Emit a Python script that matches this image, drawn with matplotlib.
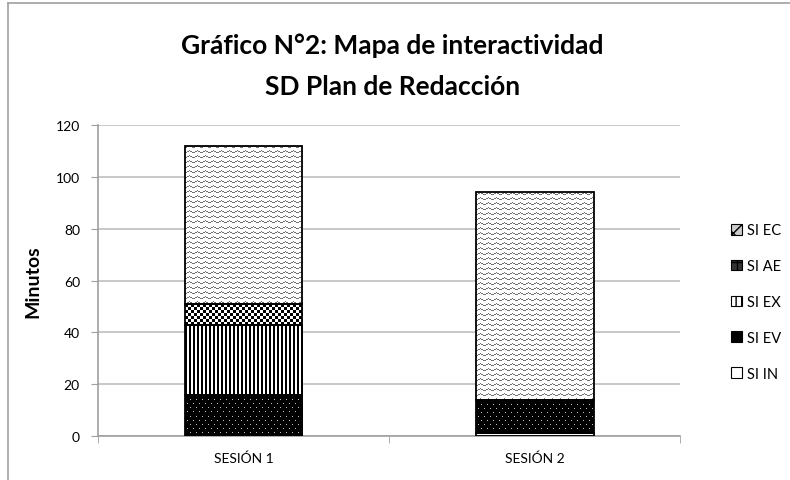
import matplotlib
matplotlib.use("Agg")
import matplotlib.pyplot as plt
import matplotlib.patches as mpatches
import numpy as np

# data (minutes)
sessions = ["SESIÓN 1", "SESIÓN 2"]
series_names = ["SI IN", "SI EV", "SI EX", "SI AE", "SI EC"]
si_in = [0, 1]
si_ev = [16, 13]
si_ex = [27, 0]
si_ae = [8, 0]
si_ec = [61, 80]
series_values = [si_in, si_ev, si_ex, si_ae, si_ec]
patterns = ["blank", "dots", "vstripes", "checker", "zigzag"]


def texture(kind, h, w):
    # pixel textures that mimic the Excel pattern fills
    yy, xx = np.mgrid[0:h, 0:w]
    img = np.ones((h, w, 3))
    if kind == "dots":
        img[:] = 0.0
        row = yy % 4 == 1
        col = (xx + 3 * ((yy // 4) % 2)) % 6 == 2
        img[row & col] = 0.75
    elif kind == "vstripes":
        img[(xx % 4) < 2] = 0.0
    elif kind == "checker":
        img[((xx // 3) + (yy // 3)) % 2 == 0] = 0.0
    elif kind == "zigzag":
        tri = np.abs((xx % 8) - 4) / 2.0
        on = np.abs(((yy - tri) % 5)) < 1.0
        img[on] = 0.45
    return img


plt.rcParams["font.family"] = ["Lato", "DejaVu Sans"]
plt.rcParams["hatch.linewidth"] = 1.0

fig = plt.figure(figsize=(7.9, 4.81), dpi=100)
ax = fig.add_axes([0.124, 0.0915, 0.737, 0.6465])
ax.set_xlim(-0.5, 1.5)
ax.set_ylim(0, 120)

x = np.arange(len(sessions))
width = 0.405
bottom = np.zeros(len(sessions))
for vals, kind in zip(series_values, patterns):
    vals = np.array(vals, dtype=float)
    ax.bar(x, vals, width, bottom=bottom, fill=False,
           edgecolor="black", linewidth=1.3, zorder=3)
    for xi, b, v in zip(x, bottom, vals):
        if v <= 0:
            continue
        x0, x1 = xi - width / 2, xi + width / 2
        p0 = ax.transData.transform((x0, b))
        p1 = ax.transData.transform((x1, b + v))
        w_px = max(int(round(abs(p1[0] - p0[0]))), 1)
        h_px = max(int(round(abs(p1[1] - p0[1]))), 1)
        ax.imshow(texture(kind, h_px, w_px), extent=(x0, x1, b, b + v),
                  aspect="auto", interpolation="nearest", zorder=2)
    bottom += vals

ax.set_xlim(-0.5, 1.5)
ax.set_ylim(0, 120)
ax.set_yticks(range(0, 121, 20))
ax.set_xticks(x)
ax.set_xticklabels(sessions, fontsize=10)
ax.set_xticks([-0.5, 0.5, 1.5], minor=True)
ax.tick_params(axis="x", which="major", length=0, pad=11)
ax.tick_params(axis="x", which="minor", length=5, color="#a0a0a0")
ax.tick_params(axis="y", labelsize=10, length=5, color="#a0a0a0", pad=8)
ax.yaxis.grid(True, color="#bfbfbf", linewidth=1.2, zorder=0)
ax.set_axisbelow(True)
for side in ["top", "right"]:
    ax.spines[side].set_visible(False)
for side in ["left", "bottom"]:
    ax.spines[side].set_color("#a0a0a0")
    ax.spines[side].set_linewidth(1.2)

ax.set_ylabel("Minutos", fontsize=14, fontweight="bold", labelpad=10)

fig.text(0.497, 0.862, "Gráfico N°2: Mapa de interactividad\nSD Plan de Redacción",
         ha="center", va="center", fontsize=19, fontweight="bold",
         linespacing=1.85)

legend_styles = [
    ("white", "black", ""),
    ("black", "black", ""),
    ("white", "black", "|||"),
    ("#333333", "white", "++"),
    ("#cccccc", "#555555", "xx"),
]
handles = [mpatches.Patch(facecolor=f, edgecolor=e, hatch=h, linewidth=0.8)
           for f, e, h in legend_styles]
leg = fig.legend(handles[::-1], series_names[::-1], loc="center left",
                 bbox_to_anchor=(0.925, 0.37), frameon=False, fontsize=10.5,
                 labelspacing=1.5, handlelength=0.75, handleheight=0.75,
                 handletextpad=0.35, borderpad=0, borderaxespad=0)
for h in leg.legend_handles:
    h.set_edgecolor("black")

# chart-area border (left and top visible)
fig.add_artist(plt.Line2D([0.0105, 0.0105], [0, 0.992], color="#a0a0a0",
                          linewidth=1.2, transform=fig.transFigure))
fig.add_artist(plt.Line2D([0.0105, 1], [0.992, 0.992], color="#a0a0a0",
                          linewidth=1.2, transform=fig.transFigure))

fig.savefig("out.png", dpi=100)
